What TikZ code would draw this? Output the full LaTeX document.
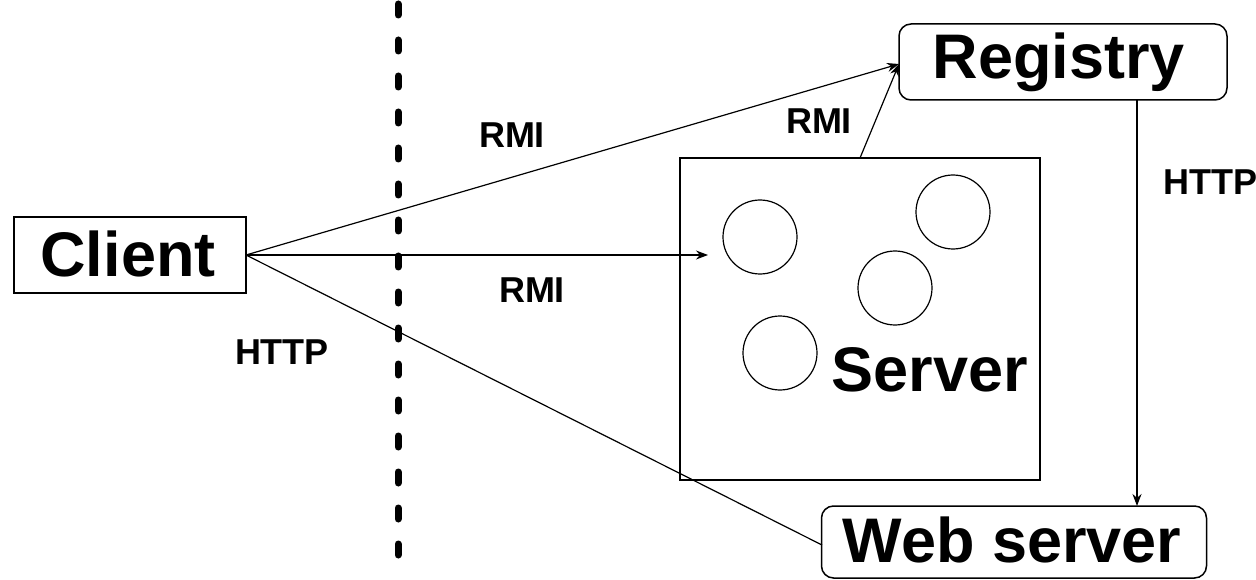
\documentclass[tikz,border=0pt]{standalone}
\usepackage{fontspec}
\setmainfont{Liberation Sans}
\usetikzlibrary{arrows.meta}
\begin{document}
\begin{tikzpicture}[x=1pt,y=-1pt,
  big/.style={font=\bfseries\fontsize{63}{66}\selectfont, inner sep=0pt},
  lbl/.style={font=\bfseries\fontsize{36}{38}\selectfont, inner sep=0pt},
  conn/.style={line width=1.2pt},
  arr/.style={conn,-{Stealth[length=12pt,width=9pt]}},
  blob/.style={circle, draw, line width=1.2pt, minimum size=74pt, inner sep=0pt}]
\useasboundingbox (0,0) rectangle (1256,580);
% boxes
\node[draw, line width=1.5pt, minimum width=232pt, minimum height=76pt, inner sep=0pt] (client) at (130,255) {};
\node[big] at (128,254) {Client};
\node[draw, line width=1.5pt, rounded corners=12pt, minimum width=328pt, minimum height=76pt, inner sep=0pt] (reg) at (1063,62) {};
\node[big] at (1059,62) {Registry};
\node[draw, line width=1.5pt, minimum width=360pt, minimum height=322pt, inner sep=0pt] (server) at (860,319) {};
\node[draw, line width=1.5pt, rounded corners=12pt, minimum width=385pt, minimum height=72pt, inner sep=0pt] (web) at (1014,542) {};
\node[big] at (1012,540) {Web server};
\node[big] (servertxt) at (930,370) {Server};
% circles
\node[blob] (c1) at (760,237) {};
\node[blob] (c2) at (953,212) {};
\node[blob] (c3) at (895,288) {};
\node[blob] (c4) at (780,353) {};
% dotted separator
\coordinate (dtop) at (398,0);
\coordinate (dbot) at (398,580);
\draw[line width=7pt, line cap=round, dash pattern=on 11pt off 25pt, dash phase=-4pt] (dtop) -- (dbot);
% connectors
\coordinate (rin) at (899,64);
\coordinate (sarr) at (708,255);
\coordinate (stop) at (860,158);
\coordinate (cl) at (246,255);
\coordinate (wl) at (822,545);
\coordinate (rb) at (1137,100);
\coordinate (wt) at (1137,506);
\draw[arr] (cl) -- (rin);
\draw[arr] (stop) -- (rin);
\draw[arr] (cl) -- (sarr);
\draw[conn] (cl) -- (wl);
\draw[arr] (rb) -- (wt);
% labels
\node[lbl] at (512,135) {RMI};
\node[lbl] at (819,121) {RMI};
\node[lbl] at (532,290) {RMI};
\node[lbl] at (282,352) {HTTP};
\node[lbl] at (1210,182) {HTTP};
\end{tikzpicture}
\end{document}
